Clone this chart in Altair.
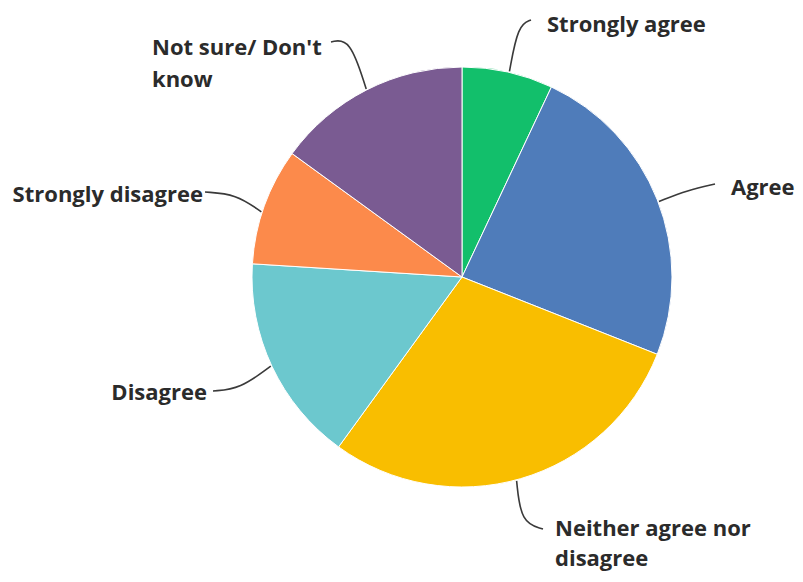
import math
import altair as alt
import pandas as pd

# ---- data ----
categories = [
    "Strongly agree",
    "Agree",
    "Neither agree nor disagree",
    "Disagree",
    "Strongly disagree",
    "Not sure/ Don't know",
]
values = [7, 24, 29, 16, 9, 15]
label_text = [
    "Strongly agree",
    "Agree",
    "Neither agree nor\ndisagree",
    "Disagree",
    "Strongly disagree",
    "Not sure/ Don't\nknow",
]

# ---- style / layout ----
colors = ["#12bf6b", "#4f7cba", "#f9be00", "#6cc8ce", "#fc8a4b", "#7a5b92"]
W, H = 787, 566
OFF = 8
CX, CY, R = 462 - OFF, 277 - OFF, 210

# leader: angle (deg, clockwise from top) where it leaves the pie, control pt, end pt (page px)
leaders = {
    "Strongly agree": (13, (518, 25), (531, 20)),
    "Agree": (69, (688, 190), (715, 184)),
    "Neither agree nor disagree": (165, (521, 523), (543, 529)),
    "Disagree": (245, (240, 389), (213, 391)),
    "Strongly disagree": (288, (236, 194), (205, 192)),
    "Not sure/ Don't know": (333, (350, 38), (331, 42)),
}
# label anchor (page px, baseline of first line), alignment, line height
label_pos = {
    "Strongly agree": (547, 32, "left", 32),
    "Agree": (731, 195, "left", 32),
    "Neither agree nor disagree": (555, 536, "left", 30),
    "Disagree": (207, 400, "right", 32),
    "Strongly disagree": (203, 202, "right", 32),
    "Not sure/ Don't know": (152, 55, "left", 32),
}

df = pd.DataFrame({"category": categories, "value": values, "order": list(range(len(values)))})

rows = []
for cat in categories:
    ang, ctrl, end = leaders[cat]
    a = math.radians(ang)
    sx = CX + (R + 1) * math.sin(a)
    sy = CY - (R + 1) * math.cos(a)
    pts = [(sx, sy), (ctrl[0] - OFF, ctrl[1] - OFF), (end[0] - OFF, end[1] - OFF)]
    for i, (px, py) in enumerate(pts):
        rows.append({"category": cat, "seq": i, "px": px, "py": py})
lead_df = pd.DataFrame(rows)

lab_rows = []
for cat, txt in zip(categories, label_text):
    x, y, al, lh = label_pos[cat]
    lab_rows.append({"category": cat, "text": txt, "px": x - OFF, "py": y - OFF, "al": al, "lh": lh})
lab_df = pd.DataFrame(lab_rows)

xs = alt.Scale(domain=[0, W], nice=False, zero=False)
ys = alt.Scale(domain=[0, H], nice=False, zero=False, reverse=True)

pie = alt.Chart(df).mark_arc(outerRadius=R, stroke="white", strokeWidth=1).encode(
    theta=alt.Theta("value:Q", stack=True),
    color=alt.Color("category:N", scale=alt.Scale(domain=categories, range=colors), legend=None),
    order=alt.Order("order:Q"),
    x=alt.value(CX),
    y=alt.value(CY),
)

lines = alt.Chart(lead_df).mark_line(interpolate="basis", color="#3a3a3a", strokeWidth=1.6).encode(
    x=alt.X("px:Q", scale=xs, axis=None),
    y=alt.Y("py:Q", scale=ys, axis=None),
    detail="category:N",
    order="seq:Q",
)

font = "Open Sans"
FS = 22


def text_layer(sub, align, lh):
    return alt.Chart(sub).mark_text(
        align=align, baseline="alphabetic", font=font, fontWeight="bold", fontSize=FS,
        color="#2b2b2b", lineBreak="\n", lineHeight=lh,
    ).encode(
        x=alt.X("px:Q", scale=xs, axis=None),
        y=alt.Y("py:Q", scale=ys, axis=None),
        text="text:N",
    )


layers = [pie, lines]
for (al, lh), sub in lab_df.groupby(["al", "lh"]):
    layers.append(text_layer(sub, al, int(lh)))

chart = alt.layer(*layers).properties(
    width=W, height=H, padding=0, autosize=alt.AutoSizeParams(type="none"), background="white"
).configure_view(stroke=None)

chart.save("out.html", embed_options={"renderer": "svg", "actions": False})
